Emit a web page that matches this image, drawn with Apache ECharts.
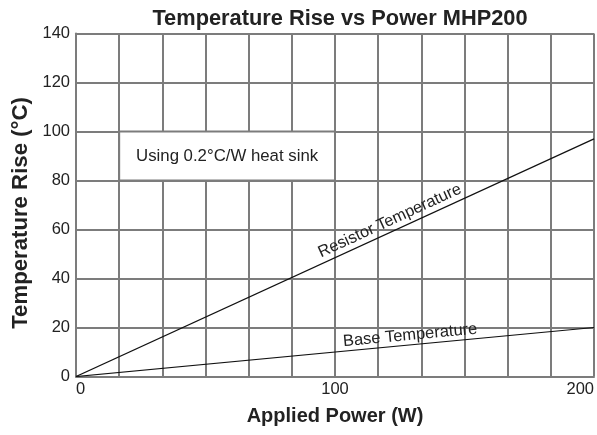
<!DOCTYPE html>
<html>
<head>
<meta charset="utf-8">
<script src="https://cdn.jsdelivr.net/npm/echarts@6/dist/echarts.min.js"></script>
<style>
html,body{margin:0;padding:0;background:#fff;}
#chart{width:597px;height:435px;}
</style>
</head>
<body>
<div id="chart"></div>
<script>
// Data
const powerW = [0, 200];
const resistorTemp = [0, 97];
const baseTemp = [0, 20];
const xTicks = [0, 100, 200];
const yTicks = [0, 20, 40, 60, 80, 100, 120, 140];
const titleText = 'Temperature Rise vs Power MHP200';
const xName = 'Applied Power (W)';
const yName = 'Temperature Rise (°C)';
const noteText = 'Using 0.2°C/W heat sink';
const noteBox = [[100 / 6, 80], [100, 100]];
const resistorLabel = 'Resistor Temperature';
const baseLabel = 'Base Temperature';

const FONT = '"Liberation Sans", Arial, Helvetica, sans-serif';
const GRID = '#7c7c7c';
const TXT = '#222222';

const chart = echarts.init(document.getElementById('chart'), null, {renderer: 'canvas'});

const gLeft = 76, gRight = 3, gTop = 33.5, gBottom = 58.5;
const plotW = 597 - gLeft - gRight, plotH = 435 - gTop - gBottom;
const xMax = xTicks[xTicks.length - 1], yMax = yTicks[yTicks.length - 1];
function angle(yEnd) { return Math.atan((yEnd / yMax * plotH) / plotW) * 180 / Math.PI; }

chart.setOption({
  animation: false,
  backgroundColor: '#ffffff',
  title: {
    text: titleText,
    left: gLeft + plotW / 2,
    top: 3,
    textAlign: 'center',
    textStyle: {fontFamily: FONT, fontWeight: 'bold', fontSize: 21.8, color: TXT}
  },
  grid: {left: gLeft, right: gRight, top: gTop, bottom: gBottom, containLabel: false},
  xAxis: {
    type: 'value',
    min: xTicks[0], max: xMax, interval: 100,
    name: xName,
    nameLocation: 'middle',
    nameGap: 30,
    nameTextStyle: {fontFamily: FONT, fontWeight: 'bold', fontSize: 20, color: TXT},
    axisLine: {show: true, lineStyle: {color: GRID, width: 2}},
    axisTick: {show: false},
    axisLabel: {fontFamily: FONT, fontSize: 16.5, color: TXT, margin: 4,
      alignMinLabel: 'left', alignMaxLabel: 'right'},
    splitLine: {show: true, lineStyle: {color: GRID, width: 2}},
    minorTick: {show: false, splitNumber: 6},
    minorSplitLine: {show: true, lineStyle: {color: GRID, width: 2}}
  },
  yAxis: {
    type: 'value',
    min: yTicks[0], max: yMax, interval: 20,
    name: yName,
    nameLocation: 'middle',
    nameGap: 43,
    nameTextStyle: {fontFamily: FONT, fontWeight: 'bold', fontSize: 22.2, color: TXT, padding: [0, 16, 0, 0]},
    axisLine: {show: true, lineStyle: {color: GRID, width: 2}},
    axisTick: {show: false},
    axisLabel: {fontFamily: FONT, fontSize: 16.5, color: TXT, margin: 6},
    splitLine: {show: true, lineStyle: {color: GRID, width: 2}}
  },
  series: [
    {
      name: resistorLabel,
      type: 'line',
      data: powerW.map((p, i) => [p, resistorTemp[i]]),
      symbol: 'none',
      lineStyle: {color: '#111', width: 1.2},
      z: 5,
      markArea: {
        silent: true,
        itemStyle: {color: '#ffffff', borderColor: GRID, borderWidth: 2},
        label: {show: true, position: 'inside', fontFamily: FONT, fontSize: 16.8, color: TXT},
        data: [[{coord: noteBox[0], name: noteText}, {coord: noteBox[1]}]]
      },
      markPoint: {
        silent: true,
        symbol: 'circle', symbolSize: 0,
        label: {show: true, position: 'inside', formatter: resistorLabel,
          rotate: angle(resistorTemp[1]), fontFamily: FONT, fontSize: 16.3, color: TXT},
        data: [{coord: [121.2, 63.5]}]
      }
    },
    {
      name: baseLabel,
      type: 'line',
      data: powerW.map((p, i) => [p, baseTemp[i]]),
      symbol: 'none',
      lineStyle: {color: '#111', width: 1.2},
      z: 5,
      markPoint: {
        silent: true,
        symbol: 'circle', symbolSize: 0,
        label: {show: true, position: 'inside', formatter: baseLabel,
          rotate: angle(baseTemp[1]), fontFamily: FONT, fontSize: 16.5, color: TXT},
        data: [{coord: [129, 16.8]}]
      }
    }
  ]
});
</script>
</body>
</html>
